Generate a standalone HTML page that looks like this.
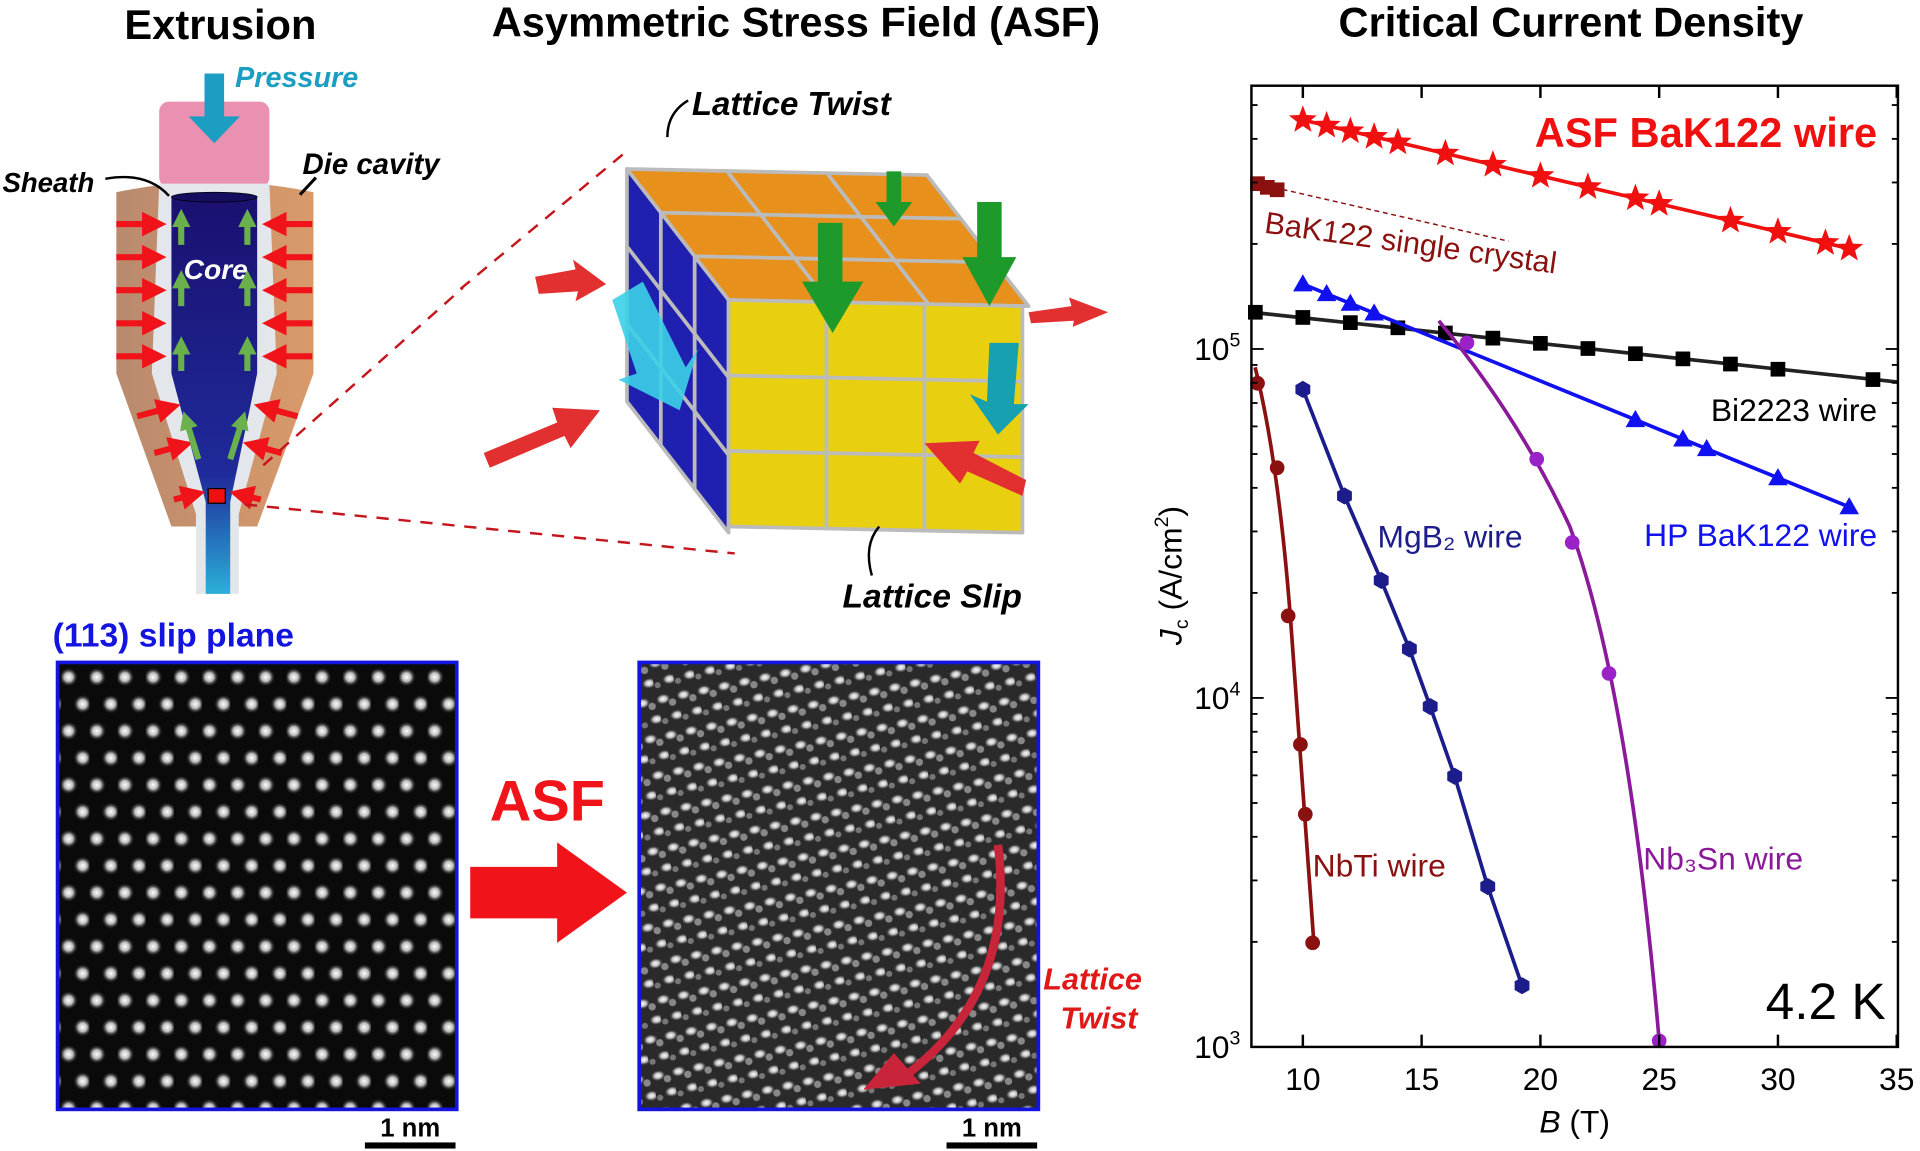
<!DOCTYPE html>
<html><head><meta charset="utf-8"><style>
html,body{margin:0;padding:0;background:#fff}
svg{display:block}
text{font-family:"Liberation Sans",Arial,sans-serif}
</style></head><body>
<svg id="s" width="1920" height="1151" viewBox="0 0 1568 940" xmlns="http://www.w3.org/2000/svg">
<defs>
<radialGradient id="dot"><stop offset="0" stop-color="#fff"/><stop offset="0.45" stop-color="#bbb"/><stop offset="1" stop-color="#000" stop-opacity="0"/></radialGradient>
<pattern id="lat1" width="23" height="44" patternUnits="userSpaceOnUse" x="50" y="545">
<rect width="23" height="44" fill="#0a0a0a"/>
<circle cx="6" cy="8" r="8" fill="url(#dot)"/><circle cx="17.5" cy="30" r="8" fill="url(#dot)"/>
</pattern>
<pattern id="lat2" width="17" height="30" patternUnits="userSpaceOnUse" x="525" y="545" patternTransform="rotate(-12)">
<rect width="17" height="30" fill="#2a2a2a"/>
<ellipse cx="5" cy="6" rx="7" ry="5" fill="url(#dot)"/><ellipse cx="13.5" cy="21" rx="7" ry="5" fill="url(#dot)"/>
<circle cx="12" cy="10" r="3" fill="#888"/><circle cx="3" cy="24" r="2.5" fill="#777"/>
</pattern>
<linearGradient id="core" x1="0" y1="0" x2="0" y2="1"><stop offset="0" stop-color="#1a1070"/><stop offset="0.7" stop-color="#1f2a9a"/><stop offset="1" stop-color="#2ab0d8"/></linearGradient>
<linearGradient id="die" x1="0" x2="1"><stop offset="0" stop-color="#b98a6e"/><stop offset="1" stop-color="#d99a6a"/></linearGradient>
<marker id="ra" markerWidth="4" markerHeight="4" refX="2" refY="2" orient="auto"><path d="M0,0L4,2L0,4z" fill="#f0141a"/></marker>
<marker id="ga" markerWidth="3" markerHeight="3" refX="1.5" refY="1.5" orient="auto"><path d="M0,0L3,1.5L0,3z" fill="#6ab04c"/></marker>
</defs>

<!-- Titles -->
<text x="180" y="32" font-size="34" font-weight="bold" text-anchor="middle">Extrusion</text>
<text x="650" y="30" font-size="34" font-weight="bold" text-anchor="middle">Asymmetric Stress Field (ASF)</text>
<text x="1283" y="30" font-size="34" font-weight="bold" text-anchor="middle">Critical Current Density</text>

<!-- Extrusion -->
<g>
<path d="M95,157 Q175,140 256,157 L256,305 L210,430 L140,430 L95,305Z" fill="url(#die)"/>
<rect x="130" y="83" width="90" height="70" rx="8" fill="#ea90b0"/>
<path d="M130,150 L220,150 L226,305 L195,420 L195,485 L160,485 L160,420 L124,305Z" fill="#e3e6ea"/>
<path d="M140,160 L210,160 L210,305 L188,410 L188,485 L168,485 L168,410 L140,305Z" fill="url(#core)"/>
<ellipse cx="175" cy="161" rx="35" ry="4" fill="#150d60" stroke="#000" stroke-width="0.6"/>
<path d="M167,60 L183,60 L183,95 L196,95 L175,117 L154,95 L167,95Z" fill="#1b9ec2"/>
<text x="192" y="71" font-size="23.5" font-weight="bold" font-style="italic" fill="#1b9ec2">Pressure</text>
<text x="150" y="228" font-size="23" font-weight="bold" font-style="italic" fill="#fff">Core</text>
<text x="2" y="157" font-size="22.5" font-weight="bold" font-style="italic">Sheath</text>
<path d="M138,160 Q120,140 86,146" fill="none" stroke="#000" stroke-width="2"/>
<text x="247" y="142" font-size="24" font-weight="bold" font-style="italic">Die cavity</text>
<path d="M258,145 L245,159" stroke="#000" stroke-width="2.5"/>
<g stroke="#f0141a" stroke-width="5" marker-end="url(#ra)" fill="none">
<path d="M95,183 L126,183"/><path d="M95,210 L126,210"/><path d="M95,237 L126,237"/><path d="M95,264 L126,264"/><path d="M95,291 L126,291"/>
<path d="M255,183 L224,183"/><path d="M255,210 L224,210"/><path d="M255,237 L224,237"/><path d="M255,264 L224,264"/><path d="M255,291 L224,291"/>
<path d="M112,340 L138,333"/><path d="M243,340 L217,333"/><path d="M126,370 L148,364"/><path d="M230,370 L208,364"/>
<path d="M142,408 L158,404"/><path d="M213,408 L197,404"/>
</g>
<g stroke="#6ab04c" stroke-width="5" marker-end="url(#ga)" fill="none">
<path d="M148,200 L148,178"/><path d="M202,200 L202,178"/><path d="M148,250 L148,228"/><path d="M202,250 L202,228"/>
<path d="M148,303 L148,282"/><path d="M202,303 L202,282"/><path d="M162,375 L152,343"/><path d="M188,375 L198,343"/>
</g>
<rect x="170" y="399" width="14" height="12" fill="#f01010" stroke="#000" stroke-width="1"/>
<g stroke="#c4161c" stroke-width="2" stroke-dasharray="10,8" fill="none">
<path d="M215,380 L378,235"/><path d="M200,412 L600,452"/>
<path d="M376,236 L510,125"/>
</g>
</g>

<!-- Cube -->
<g id="cube" stroke="#bbb" stroke-width="3" stroke-linejoin="round"></g>
<g fill="#e23030">
<path d="M437,226 L470,220 L468,212 L495,232 L470,246 L472,238 L440,240Z"/>
<path d="M395,370 L455,345 L451,333 L490,335 L466,366 L461,356 L400,382Z"/>
<path d="M840,255 L875,250 L873,243 L905,255 L876,267 L877,262 L842,264Z"/>
<path d="M835,405 L790,385 L784,395 L755,362 L800,360 L795,370 L838,392Z"/>
</g>
<path d="M500,245 L525,230 L560,300 L570,285 L555,335 L505,310 L520,305Z" fill="#3cd0e8" opacity="0.9"/>
<path d="M724,140 L736,140 L736,165 L745,165 L730,185 L715,165 L724,165Z" fill="#1d9a2a"/>
<path d="M668,182 L688,182 L688,230 L705,230 L680,272 L655,230 L668,230Z" fill="#1d9a2a"/>
<path d="M798,165 L818,165 L818,210 L830,210 L808,250 L786,210 L798,210Z" fill="#1d9a2a"/>
<path d="M808,280 L832,280 L828,330 L840,330 L815,355 L792,322 L806,328Z" fill="#16a0b0"/>
<text x="565" y="94" font-size="27" font-weight="bold" font-style="italic">Lattice Twist</text>
<path d="M562,82 Q545,92 545,112" fill="none" stroke="#000" stroke-width="2"/>
<text x="688" y="496" font-size="27.5" font-weight="bold" font-style="italic">Lattice Slip</text>
<path d="M718,430 Q705,445 712,470" fill="none" stroke="#000" stroke-width="2"/>

<!-- STEM images -->
<text x="43" y="528" font-size="27.5" font-weight="bold" fill="#1414e0">(113) slip plane</text>
<rect x="47" y="541" width="326" height="365" fill="url(#lat1)" stroke="#1414e0" stroke-width="3"/>
<rect x="522" y="541" width="326" height="365" fill="url(#lat2)" stroke="#1414e0" stroke-width="3"/>
<rect x="298" y="933" width="74" height="5" fill="#000"/><text x="335" y="928" font-size="21" font-weight="bold" text-anchor="middle">1 nm</text>
<rect x="773" y="933" width="74" height="5" fill="#000"/><text x="810" y="928" font-size="21" font-weight="bold" text-anchor="middle">1 nm</text>
<text x="447" y="670" font-size="47" font-weight="bold" fill="#f0141a" text-anchor="middle">ASF</text>
<path d="M384,708 L455,708 L455,688 L512,729 L455,770 L455,750 L384,750Z" fill="#f0141a"/>
<path d="M815,690 Q830,810 740,878" fill="none" stroke="#c8243a" stroke-width="7"/>
<path d="M705,890 L730,860 L752,885Z" fill="#c8243a"/>
<text x="852" y="808" font-size="25" font-weight="bold" font-style="italic" fill="#e01818">Lattice</text>
<text x="866" y="840" font-size="25" font-weight="bold" font-style="italic" fill="#e01818">Twist</text>

<!-- Chart -->
<g id="chart"></g>
<rect x="1022" y="70" width="528" height="785" fill="none" stroke="#000" stroke-width="2"/>
<g font-size="26" text-anchor="middle">
<text x="1064" y="890">10</text><text x="1161" y="890">15</text><text x="1258" y="890">20</text><text x="1355" y="890">25</text><text x="1452" y="890">30</text><text x="1549" y="890">35</text>
</g>
<text x="1286" y="925" font-size="26" text-anchor="middle"><tspan font-style="italic">B</tspan> (T)</text>
<g font-size="26" text-anchor="end">
<text x="1013" y="294">10<tspan font-size="16" dy="-11">5</tspan></text>
<text x="1013" y="579">10<tspan font-size="16" dy="-11">4</tspan></text>
<text x="1013" y="864">10<tspan font-size="16" dy="-11">3</tspan></text>
</g>
<text transform="translate(965,470) rotate(-90)" font-size="26" text-anchor="middle"><tspan font-style="italic">J</tspan><tspan font-size="16" dy="5">c</tspan><tspan dy="-5"> (A/cm</tspan><tspan font-size="16" dy="-11">2</tspan><tspan dy="11">)</tspan></text>
<text x="1533" y="120" font-size="34" font-weight="bold" fill="#f01010" text-anchor="end">ASF BaK122 wire</text>
<text x="1032" y="190" font-size="25" fill="#8b1010" transform="rotate(8 1032 190)">BaK122 single crystal</text>
<text x="1533" y="344" font-size="26" text-anchor="end">Bi2223 wire</text>
<text x="1533" y="446" font-size="26" fill="#1010f0" text-anchor="end">HP BaK122 wire</text>
<text x="1125" y="447" font-size="26" fill="#1c1c8a">MgB₂ wire</text>
<text x="1072" y="716" font-size="26" fill="#8b1010">NbTi wire</text>
<text x="1342" y="710" font-size="26" fill="#8a1a9a">Nb₃Sn wire</text>
<text x="1540" y="832" font-size="42" text-anchor="end">4.2 K</text>
</svg>
<script>
var NS="http://www.w3.org/2000/svg";
function el(p,t,a){var e=document.createElementNS(NS,t);for(var k in a)e.setAttribute(k,a[k]);p.appendChild(e);return e;}
var cube=document.getElementById('cube');
function face(P0,U,V,fill){for(var i=0;i<3;i++)for(var j=0;j<3;j++){var a=[P0[0]+U[0]*i/3+V[0]*j/3,P0[1]+U[1]*i/3+V[1]*j/3];
var pts=[a,[a[0]+U[0]/3,a[1]+U[1]/3],[a[0]+U[0]/3+V[0]/3,a[1]+U[1]/3+V[1]/3],[a[0]+V[0]/3,a[1]+V[1]/3]];
el(cube,'polygon',{points:pts.map(function(p){return p.join(',')}).join(' '),fill:fill});}}
// top: back-left L=(512,138), front-left F=(595,245), front-right R=(835,250)
face([512,138],[245,5],[83,107],'#e8901c');
face([512,138],[83,107],[0,190],'#2020b0');
face([595,245],[240,5],[0,185],'#e8d010');
var g=document.getElementById('chart');
function px(B){return 1064+(B-10)*19.4}
function py(J){return 855-(Math.log10(J)-3)*285}
function line(pts,c,w,dash){el(g,'polyline',{points:pts.map(function(p){return p.join(',')}).join(' '),fill:'none',stroke:c,'stroke-width':w||2.5,'stroke-dasharray':dash||''});}
function star(x,y,c){var s='';for(var i=0;i<10;i++){var r=i%2?5:12,a=-Math.PI/2+i*Math.PI/5;s+=(x+r*Math.cos(a))+','+(y+r*Math.sin(a))+' ';}el(g,'polygon',{points:s,fill:c});}
function sq(x,y,c){el(g,'rect',{x:x-6,y:y-6,width:12,height:12,fill:c});}
function tri(x,y,c){el(g,'polygon',{points:(x-8)+','+(y+6)+' '+(x+8)+','+(y+6)+' '+x+','+(y-8),fill:c});}
function circ(x,y,c){el(g,'circle',{cx:x,cy:y,r:6,fill:c});}
function hex(x,y,c){var s='';for(var i=0;i<6;i++){var a=i*Math.PI/3+Math.PI/6;s+=(x+7*Math.cos(a))+','+(y+7*Math.sin(a))+' ';}el(g,'polygon',{points:s,fill:c});}
line([[px(10),98],[px(33),203]],'#f01010',3);
[10,11,12,13,14,16,18,20,22,24,25,28,30,32,33].forEach(function(B){star(px(B),98+(B-10)*105/23,'#f01010')});
line([[1027,150],[1232,197]],'#8b1010',1.2,'4,3');
[[1027,150],[1035,153],[1043,155]].forEach(function(p){sq(p[0],p[1],'#8b1010')});
line([[1022,255],[1550,312]],'#222',3);
[8,10,12,14,16,18,20,22,24,26,28,30,34].forEach(function(B){var x=px(B);sq(x,255+(x-1025)*57/523,'#000')});
line([[px(10),232],[px(33),414]],'#1010f0',3);
[10,11,12,13,24,26,27,30,33].forEach(function(B){tri(px(B),232+(B-10)*182/23,'#1010f0')});
var nb=[[1027,313],[1043,382],[1052,503],[1062,608],[1066,665],[1072,770]];
el(g,'path',{d:'M1025,300 Q1045,380 1055,520 Q1064,650 1073,770',fill:'none',stroke:'#8b1010','stroke-width':3});
nb.forEach(function(p){circ(p[0],p[1],'#8b1010')});
var mg=[[1064,318],[1098,405],[1128,474],[1151,530],[1168,577],[1188,634],[1215,724],[1243,805]];
line(mg,'#1c1c8a',3);mg.forEach(function(p){hex(p[0],p[1],'#1c1c8a')});
el(g,'path',{d:'M1175,262 Q1240,340 1282,430 Q1330,560 1355,850',fill:'none',stroke:'#8a1a9a','stroke-width':3});
[[1198,280],[1255,375],[1284,443],[1314,550],[1355,850]].forEach(function(p){circ(p[0],p[1],'#9a22c8')});
for(var B=10;B<=35;B+=5){el(g,'line',{x1:px(B),x2:px(B),y1:855,y2:845,stroke:'#000','stroke-width':2});el(g,'line',{x1:px(B),x2:px(B),y1:70,y2:80,stroke:'#000','stroke-width':2});}
for(var d=3;d<6;d++)for(var m=1;m<10;m++){var y=py(m*Math.pow(10,d));if(y<70)continue;var L=m==1?10:5;el(g,'line',{x1:1022,x2:1022+L,y1:y,y2:y,stroke:'#000','stroke-width':1.5});el(g,'line',{x1:1550,x2:1550-L,y1:y,y2:y,stroke:'#000','stroke-width':1.5});}
</script>
</body></html>
